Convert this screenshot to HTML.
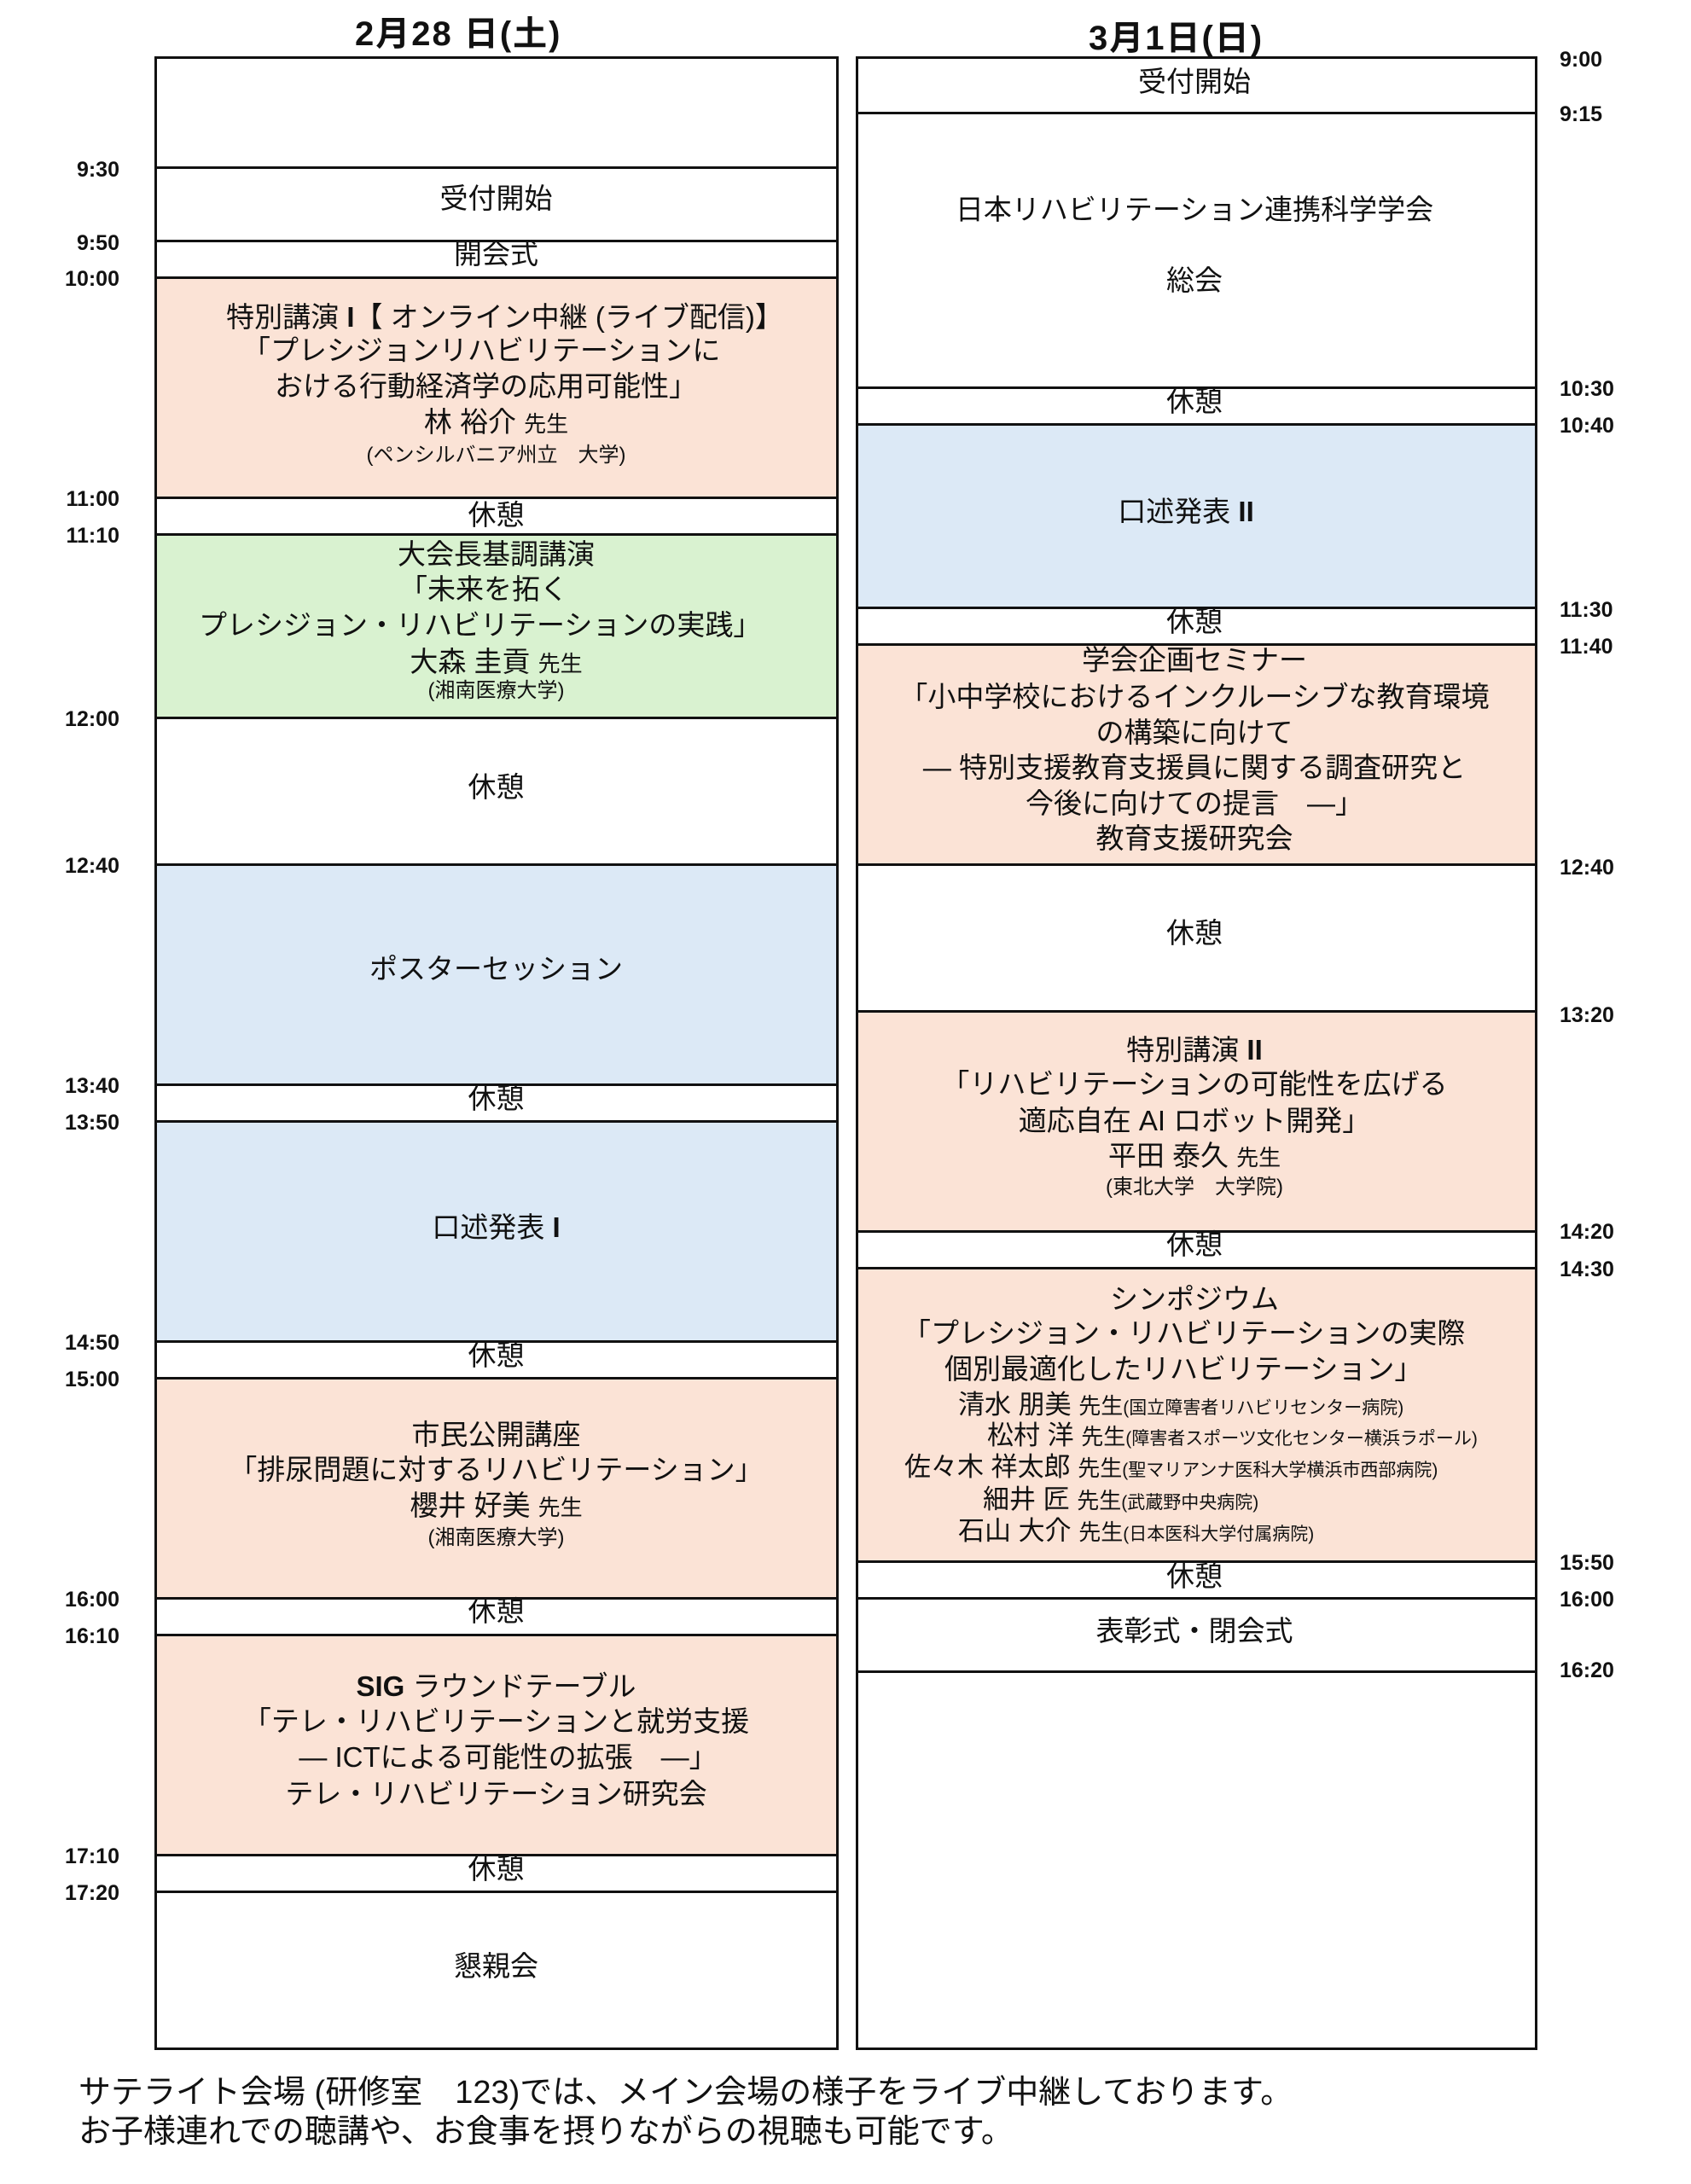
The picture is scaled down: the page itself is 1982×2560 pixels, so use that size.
<!DOCTYPE html>
<html><head><meta charset="utf-8">
<style>
body{margin:0;width:1982px;height:2560px;background:#fff;position:relative;overflow:hidden;font-family:"Liberation Sans","Noto Sans CJK JP",sans-serif;color:#111}
.s{position:absolute;box-sizing:border-box;border:3px solid #111;background:#fff}
.p{background:#fbe3d6}.g{background:#d9f2d0}.b{background:#dce9f6}
.t{position:absolute;font-size:33px;line-height:40px;white-space:nowrap}
.L{left:182px;width:799px;text-align:center}
.R{left:990px;width:820px;text-align:center}
.sm{font-size:24px}
.m{font-size:26px}
.tm{position:absolute;font-family:"Liberation Sans",sans-serif;font-weight:bold;font-size:25px;line-height:28px}
.tl{right:1842px;text-align:right}
.tr{left:1828px}
.h{position:absolute;font-weight:bold;font-size:40px;line-height:44px;white-space:nowrap;letter-spacing:2px}
</style></head><body>
<div class="h" style="left:416px;top:18px">2月28 日(土)</div>
<div class="h" style="left:1276px;top:23px">3月1日(日)</div>

<!-- left segments -->
<div class="s" style="left:181px;width:802px;top:66px;height:133px"></div>
<div class="s" style="left:181px;width:802px;top:195px;height:89px"></div>
<div class="s" style="left:181px;width:802px;top:281px;height:46px"></div>
<div class="s p" style="left:181px;width:802px;top:324px;height:261px"></div>
<div class="s" style="left:181px;width:802px;top:582px;height:46px"></div>
<div class="s g" style="left:181px;width:802px;top:625px;height:218px"></div>
<div class="s" style="left:181px;width:802px;top:840px;height:175px"></div>
<div class="s b" style="left:181px;width:802px;top:1012px;height:261px"></div>
<div class="s" style="left:181px;width:802px;top:1270px;height:46px"></div>
<div class="s b" style="left:181px;width:802px;top:1313px;height:261px"></div>
<div class="s" style="left:181px;width:802px;top:1571px;height:46px"></div>
<div class="s p" style="left:181px;width:802px;top:1614px;height:261px"></div>
<div class="s" style="left:181px;width:802px;top:1872px;height:46px"></div>
<div class="s p" style="left:181px;width:802px;top:1915px;height:261px"></div>
<div class="s" style="left:181px;width:802px;top:2173px;height:46px"></div>
<div class="s" style="left:181px;width:802px;top:2216px;height:187px"></div>

<!-- right segments -->
<div class="s" style="left:1003px;width:799px;top:66px;height:68px"></div>
<div class="s" style="left:1003px;width:799px;top:131px;height:325px"></div>
<div class="s" style="left:1003px;width:799px;top:453px;height:46px"></div>
<div class="s b" style="left:1003px;width:799px;top:496px;height:218px"></div>
<div class="s" style="left:1003px;width:799px;top:711px;height:46px"></div>
<div class="s p" style="left:1003px;width:799px;top:754px;height:261px"></div>
<div class="s" style="left:1003px;width:799px;top:1012px;height:175px"></div>
<div class="s p" style="left:1003px;width:799px;top:1184px;height:261px"></div>
<div class="s" style="left:1003px;width:799px;top:1442px;height:46px"></div>
<div class="s p" style="left:1003px;width:799px;top:1485px;height:347px"></div>
<div class="s" style="left:1003px;width:799px;top:1829px;height:46px"></div>
<div class="s" style="left:1003px;width:799px;top:1872px;height:89px"></div>
<div class="s" style="left:1003px;width:799px;top:1958px;height:445px"></div>

<!-- left times -->
<div class="tm tl" style="top:185px">9:30</div>
<div class="tm tl" style="top:271px">9:50</div>
<div class="tm tl" style="top:313px">10:00</div>
<div class="tm tl" style="top:571px">11:00</div>
<div class="tm tl" style="top:614px">11:10</div>
<div class="tm tl" style="top:829px">12:00</div>
<div class="tm tl" style="top:1001px">12:40</div>
<div class="tm tl" style="top:1259px">13:40</div>
<div class="tm tl" style="top:1302px">13:50</div>
<div class="tm tl" style="top:1560px">14:50</div>
<div class="tm tl" style="top:1603px">15:00</div>
<div class="tm tl" style="top:1861px">16:00</div>
<div class="tm tl" style="top:1904px">16:10</div>
<div class="tm tl" style="top:2162px">17:10</div>
<div class="tm tl" style="top:2205px">17:20</div>

<!-- right times -->
<div class="tm tr" style="top:56px">9:00</div>
<div class="tm tr" style="top:120px">9:15</div>
<div class="tm tr" style="top:442px">10:30</div>
<div class="tm tr" style="top:485px">10:40</div>
<div class="tm tr" style="top:701px">11:30</div>
<div class="tm tr" style="top:744px">11:40</div>
<div class="tm tr" style="top:1003px">12:40</div>
<div class="tm tr" style="top:1176px">13:20</div>
<div class="tm tr" style="top:1430px">14:20</div>
<div class="tm tr" style="top:1474px">14:30</div>
<div class="tm tr" style="top:1818px">15:50</div>
<div class="tm tr" style="top:1861px">16:00</div>
<div class="tm tr" style="top:1944px">16:20</div>

<!-- left text -->
<div class="t L" style="top:213px">受付開始</div>
<div class="t L" style="top:278px">開会式</div>
<div class="t L" style="top:352px;left:192px">特別講演 <b>I</b>【 オンライン中継 (ライブ配信)】</div>
<div class="t" style="top:391px;left:284px">「プレシジョンリハビリテーションに</div>
<div class="t" style="top:433px;left:322px">おける行動経済学の応用可能性」</div>
<div class="t L" style="top:475px">林 裕介 <span class="m">先生</span></div>
<div class="t L sm" style="top:514px">(ペンシルバニア州立　大学)</div>
<div class="t L" style="top:584px">休憩</div>
<div class="t L" style="top:630px">大会長基調講演</div>
<div class="t" style="top:671px;left:468px">「未来を拓く</div>
<div class="t" style="top:713px;left:233px">プレシジョン・リハビリテーションの実践」</div>
<div class="t L" style="top:756px">大森 圭貢 <span class="m">先生</span></div>
<div class="t L sm" style="top:790px">(湘南医療大学)</div>
<div class="t L" style="top:903px">休憩</div>
<div class="t L" style="top:1116px">ポスターセッション</div>
<div class="t L" style="top:1268px">休憩</div>
<div class="t L" style="top:1419px">口述発表 <b>I</b></div>
<div class="t L" style="top:1569px">休憩</div>
<div class="t L" style="top:1662px">市民公開講座</div>
<div class="t L" style="top:1703px">「排尿問題に対するリハビリテーション」</div>
<div class="t L" style="top:1745px">櫻井 好美 <span class="m">先生</span></div>
<div class="t L sm" style="top:1783px">(湘南医療大学)</div>
<div class="t L" style="top:1869px">休憩</div>
<div class="t L" style="top:1957px"><b>SIG</b>  ラウンドテーブル</div>
<div class="t L" style="top:1998px">「テレ・リハビリテーションと就労支援</div>
<div class="t L" style="top:2040px;left:196px">― ICTによる可能性の拡張　―」</div>
<div class="t L" style="top:2083px">テレ・リハビリテーション研究会</div>
<div class="t L" style="top:2171px">休憩</div>
<div class="t L" style="top:2285px">懇親会</div>

<!-- right text -->
<div class="t R" style="top:76px">受付開始</div>
<div class="t R" style="top:226px">日本リハビリテーション連携科学学会</div>
<div class="t R" style="top:309px">総会</div>
<div class="t R" style="top:451px">休憩</div>
<div class="t R" style="top:580px;left:980px">口述発表 <b>II</b></div>
<div class="t R" style="top:709px">休憩</div>
<div class="t R" style="top:754px">学会企画セミナー</div>
<div class="t R" style="top:797px">「小中学校におけるインクルーシブな教育環境</div>
<div class="t R" style="top:839px">の構築に向けて</div>
<div class="t R" style="top:880px">― 特別支援教育支援員に関する調査研究と</div>
<div class="t R" style="top:922px">今後に向けての提言　―」</div>
<div class="t R" style="top:963px">教育支援研究会</div>
<div class="t R" style="top:1074px">休憩</div>
<div class="t R" style="top:1211px">特別講演 <b>II</b></div>
<div class="t R" style="top:1251px">「リハビリテーションの可能性を広げる</div>
<div class="t R" style="top:1294px">適応自在 AI ロボット開発」</div>
<div class="t R" style="top:1335px">平田 泰久 <span class="m">先生</span></div>
<div class="t R sm" style="top:1372px">(東北大学　大学院)</div>
<div class="t R" style="top:1439px">休憩</div>
<div class="t R" style="top:1503px">シンポジウム</div>
<div class="t" style="top:1543px;left:1058px">「プレシジョン・リハビリテーションの実際</div>
<div class="t" style="top:1585px;left:1107px">個別最適化したリハビリテーション」</div>
<div class="t" style="top:1627px;left:1123px;font-size:31px">清水 朋美 <span class="m">先生</span><span style="font-size:21px">(国立障害者リハビリセンター病院)</span></div>
<div class="t" style="top:1663px;left:1157px;font-size:31px">松村 洋 <span class="m">先生</span><span style="font-size:21px">(障害者スポーツ文化センター横浜ラポール)</span></div>
<div class="t" style="top:1700px;left:1060px;font-size:31px">佐々木 祥太郎 <span class="m">先生</span><span style="font-size:21px">(聖マリアンナ医科大学横浜市西部病院)</span></div>
<div class="t" style="top:1738px;left:1152px;font-size:31px">細井 匠 <span class="m">先生</span><span style="font-size:21px">(武蔵野中央病院)</span></div>
<div class="t" style="top:1775px;left:1123px;font-size:31px">石山 大介 <span class="m">先生</span><span style="font-size:21px">(日本医科大学付属病院)</span></div>
<div class="t R" style="top:1828px">休憩</div>
<div class="t R" style="top:1892px">表彰式・閉会式</div>

<div class="t" style="top:2431px;left:92px;font-size:38px;line-height:44px">サテライト会場 (研修室　123)では、メイン会場の様子をライブ中継しております。</div>
<div class="t" style="top:2477px;left:92px;font-size:38px;line-height:44px">お子様連れでの聴講や、お食事を摂りながらの視聴も可能です。</div>
</body></html>
